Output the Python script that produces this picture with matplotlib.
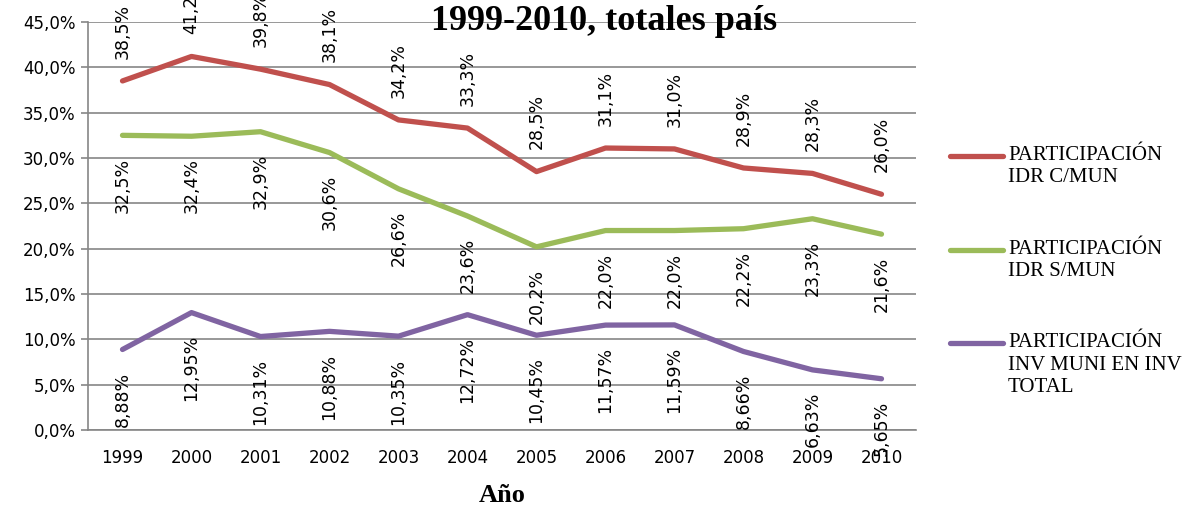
import matplotlib
matplotlib.use("Agg")
import matplotlib.pyplot as plt
from matplotlib.lines import Line2D
from matplotlib.ticker import FuncFormatter, MultipleLocator

years = ["1999", "2000", "2001", "2002", "2003", "2004", "2005", "2006",
         "2007", "2008", "2009", "2010"]
idr_c_mun = [38.5, 41.2, 39.8, 38.1, 34.2, 33.3, 28.5, 31.1, 31.0, 28.9, 28.3, 26.0]
idr_s_mun = [32.5, 32.4, 32.9, 30.6, 26.6, 23.6, 20.2, 22.0, 22.0, 22.2, 23.3, 21.6]
inv_muni = [8.88, 12.95, 10.31, 10.88, 10.35, 12.72, 10.45, 11.57, 11.59, 8.66, 6.63, 5.65]
series_names = ["PARTICIPACIÓN\nIDR C/MUN", "PARTICIPACIÓN\nIDR S/MUN",
                "PARTICIPACIÓN\nINV MUNI EN INV\nTOTAL"]

colors = ["#C0504D", "#9BBB59", "#8064A2"]
sans = "DejaVu Sans"
serif = "Liberation Serif"

fig = plt.figure(figsize=(11.92, 5.07), dpi=100)
ax = fig.add_axes([88/1192, 1-430/507, (916-88)/1192, (430-22)/507])

x = list(range(len(years)))
series = [idr_c_mun, idr_s_mun, inv_muni]
decimals = [1, 1, 2]
offsets = [16, -16, -16]
for vals, c, d, off in zip(series, colors, decimals, offsets):
    yv = [v/100 for v in vals]
    ax.plot(x, yv, color=c, lw=3.8, solid_capstyle="round", zorder=3)
    for xi, v in zip(x, vals):
        txt = f"{v:.{d}f}%".replace(".", ",")
        ax.annotate(txt, (xi, v/100), xytext=(0, off), textcoords="offset points",
                    rotation=90, ha="center", va="bottom" if off > 0 else "top",
                    fontsize=12.5, family=sans, color="black", annotation_clip=False, zorder=4)

ax.set_xlim(-0.5, 11.5)
ax.set_ylim(0, 0.45)
ax.yaxis.set_major_locator(MultipleLocator(0.05))
ax.yaxis.set_major_formatter(FuncFormatter(lambda v, p: f"{v*100:.1f}%".replace(".", ",")))
ax.set_xticks(x)
ax.set_xticklabels(years)
ax.grid(axis="y", color="#868686", lw=1.2, zorder=1)
for s in ["top", "right"]:
    ax.spines[s].set_visible(False)
for s in ["left", "bottom"]:
    ax.spines[s].set_color("#868686")
    ax.spines[s].set_linewidth(1.2)
ax.tick_params(axis="y", length=5, color="#868686", width=1.2, labelsize=12, pad=4)
ax.tick_params(axis="x", length=0, labelsize=12, pad=14)
for lab in ax.get_xticklabels() + ax.get_yticklabels():
    lab.set_family(sans)

ax.set_xlabel("Año", family=serif, fontweight="bold", fontsize=19, labelpad=12)
fig.text(604/1192, 1-21/507, "1999-2010, totales país", family=serif, fontweight="bold",
         fontsize=26, ha="center", va="center")

leg_y = [156, 250, 343]
for name, c, yy in zip(series_names, colors, leg_y):
    fy = 1 - yy/507
    fig.add_artist(Line2D([950/1192, 1003/1192], [fy, fy], color=c, lw=3.8,
                          solid_capstyle="round", transform=fig.transFigure))
    fig.text(1008/1192, 1-(yy-10)/507, name, family=serif, fontsize=15,
             ha="left", va="top", linespacing=1.25)

fig.savefig("out.png", dpi=100)
